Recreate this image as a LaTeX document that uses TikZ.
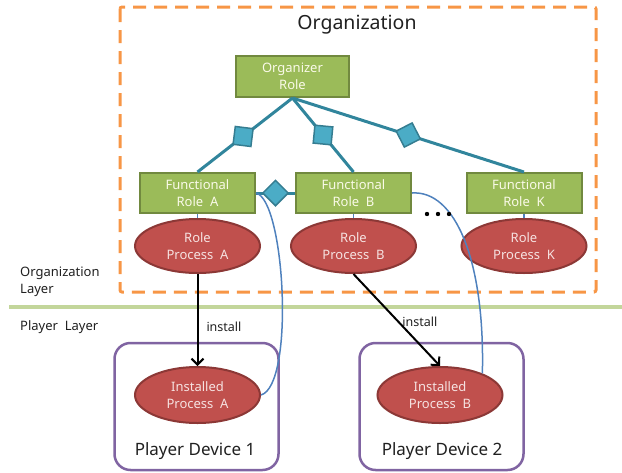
\documentclass[tikz,border=0pt]{standalone}
\usepackage{fontspec}
\setmainfont{Noto Sans}
\usetikzlibrary{shapes.geometric,arrows.meta}

\definecolor{orgorange}{HTML}{F79646}
\definecolor{rolegreen}{HTML}{9BBB59}
\definecolor{rolegreenedge}{HTML}{71893F}
\definecolor{procred}{HTML}{C0504D}
\definecolor{procrededge}{HTML}{8C3836}
\definecolor{linkteal}{HTML}{31859C}
\definecolor{diamondblue}{HTML}{4BACC6}
\definecolor{diamondedge}{HTML}{357D91}
\definecolor{bindblue}{HTML}{4F81BD}
\definecolor{devpurple}{HTML}{8064A2}
\definecolor{layergreen}{HTML}{C3D69B}
\definecolor{roletext}{HTML}{FAFAE8}
\definecolor{proctext}{HTML}{F6E2E1}
\definecolor{labeltext}{HTML}{202020}

\begin{document}
\begin{tikzpicture}[x=1pt,y=-1pt,
  rolebox/.style={draw=rolegreenedge, fill=rolegreen, line width=2pt,
    minimum width=115pt, minimum height=40pt, inner sep=0pt,
    text=roletext, font=\fontsize{13}{17}\selectfont, align=center},
  procell/.style={ellipse, draw=procrededge, fill=procred, line width=2pt,
    minimum width=125pt, minimum height=54pt, inner sep=0pt,
    text=proctext, font=\fontsize{13}{17}\selectfont, align=center},
  devbox/.style={draw=devpurple, line width=2.5pt, rounded corners=16pt,
    minimum width=164pt, minimum height=127pt, inner sep=0pt},
  link/.style={draw=linkteal, line width=3pt},
  joint/.style={diamond, aspect=1, draw=diamondedge, fill=diamondblue,
    line width=1.5pt, minimum width=26pt, minimum height=26pt, inner sep=0pt, sloped},
  bind/.style={draw=bindblue, line width=1.5pt},
  installarrow/.style={draw=black, line width=2pt,
    -{Straight Barb[length=6pt,width=12pt,line width=2pt]}},
  plain/.style={text=labeltext, inner sep=0pt},
]
\useasboundingbox (0,0) rectangle (622,472);

% organization frame and layer separator
\draw[orgorange, line width=3pt, dash pattern=on 13pt off 8pt, rounded corners=2pt]
  (120,7) rectangle (596,292);
\draw[layergreen, line width=4pt] (9,307) -- (622,307);

\node[plain, font=\fontsize{19.5}{22}\selectfont] (title) at (357,25) {Organization};
\node[plain, anchor=west, align=left, font=\fontsize{13}{16.5}\selectfont] (orglayer) at (20,282) {Organization\\Layer};
\node[plain, anchor=west, font=\fontsize{13}{16}\selectfont] (playerlayer) at (20,327) {Player\ \ Layer};

% roles
\node[rolebox, minimum width=113pt, minimum height=41pt] (org) at (292.5,76.5) {Organizer\\Role};
\node[rolebox] (fra) at (197.5,193) {Functional\\Role\ \ A};
\node[rolebox] (frb) at (353.5,193) {Functional\\Role\ \ B};
\node[rolebox] (frk) at (524,193) {Functional\\Role\ \ K};

% role processes
\node[procell] (rpa) at (197.5,246) {Role\\Process\ \ A};
\node[procell] (rpb) at (353.5,246) {Role\\Process\ \ B};
\node[procell] (rpk) at (524,246) {Role\\Process\ \ K};

% player devices
\node[devbox] (dev1) at (196.5,406.5) {};
\node[devbox] (dev2) at (441.5,406.5) {};
\node[plain, font=\fontsize{17}{20}\selectfont] (dev1label) at (195,451) {Player Device 1};
\node[plain, font=\fontsize{17}{20}\selectfont] (dev2label) at (442,451) {Player Device 2};

\node[procell, minimum height=56pt] (ipa) at (197.5,395) {Installed\\Process\ \ A};
\node[procell, minimum height=56pt] (ipb) at (440,395) {Installed\\Process\ \ B};

% composition links
\draw[link] (org.south) -- node[joint, pos=0.52] (ja) {} (fra.north);
\draw[link] (org.south) -- node[joint, pos=0.5] (jb) {} (frb.north);
\draw[link] (org.south) -- node[joint, pos=0.5] (jk) {} (frk.north);
\draw[link] (fra.east) -- node[joint, pos=0.5] (jab) {} (frb.west);

% role to process bindings
\draw[bind] (fra.south) -- (rpa.north);
\draw[bind] (frb.south) -- (rpb.north);
\draw[bind] (frk.south) -- (rpk.north);
\draw[bind] (fra.east) .. controls (285,200) and (295,385) .. (ipa.east);
\draw[bind] (frb.east) .. controls (455,190) and (485,260) .. (ipb.27);

% continuation dots
\fill (427,214) circle (2.2pt);
\fill (438,214) circle (2.2pt);
\fill (449,214) circle (2.2pt);

% installation
\draw[installarrow] (rpa.south) -- node[plain, pos=0.57, anchor=west, xshift=8pt, font=\fontsize{12.5}{15}\selectfont] (insta) {install} (ipa.north);
\draw[installarrow] (rpb.south) -- node[plain, pos=0.52, anchor=west, xshift=3pt, font=\fontsize{12.5}{15}\selectfont] (instb) {install} (ipb.north);
\end{tikzpicture}
\end{document}
